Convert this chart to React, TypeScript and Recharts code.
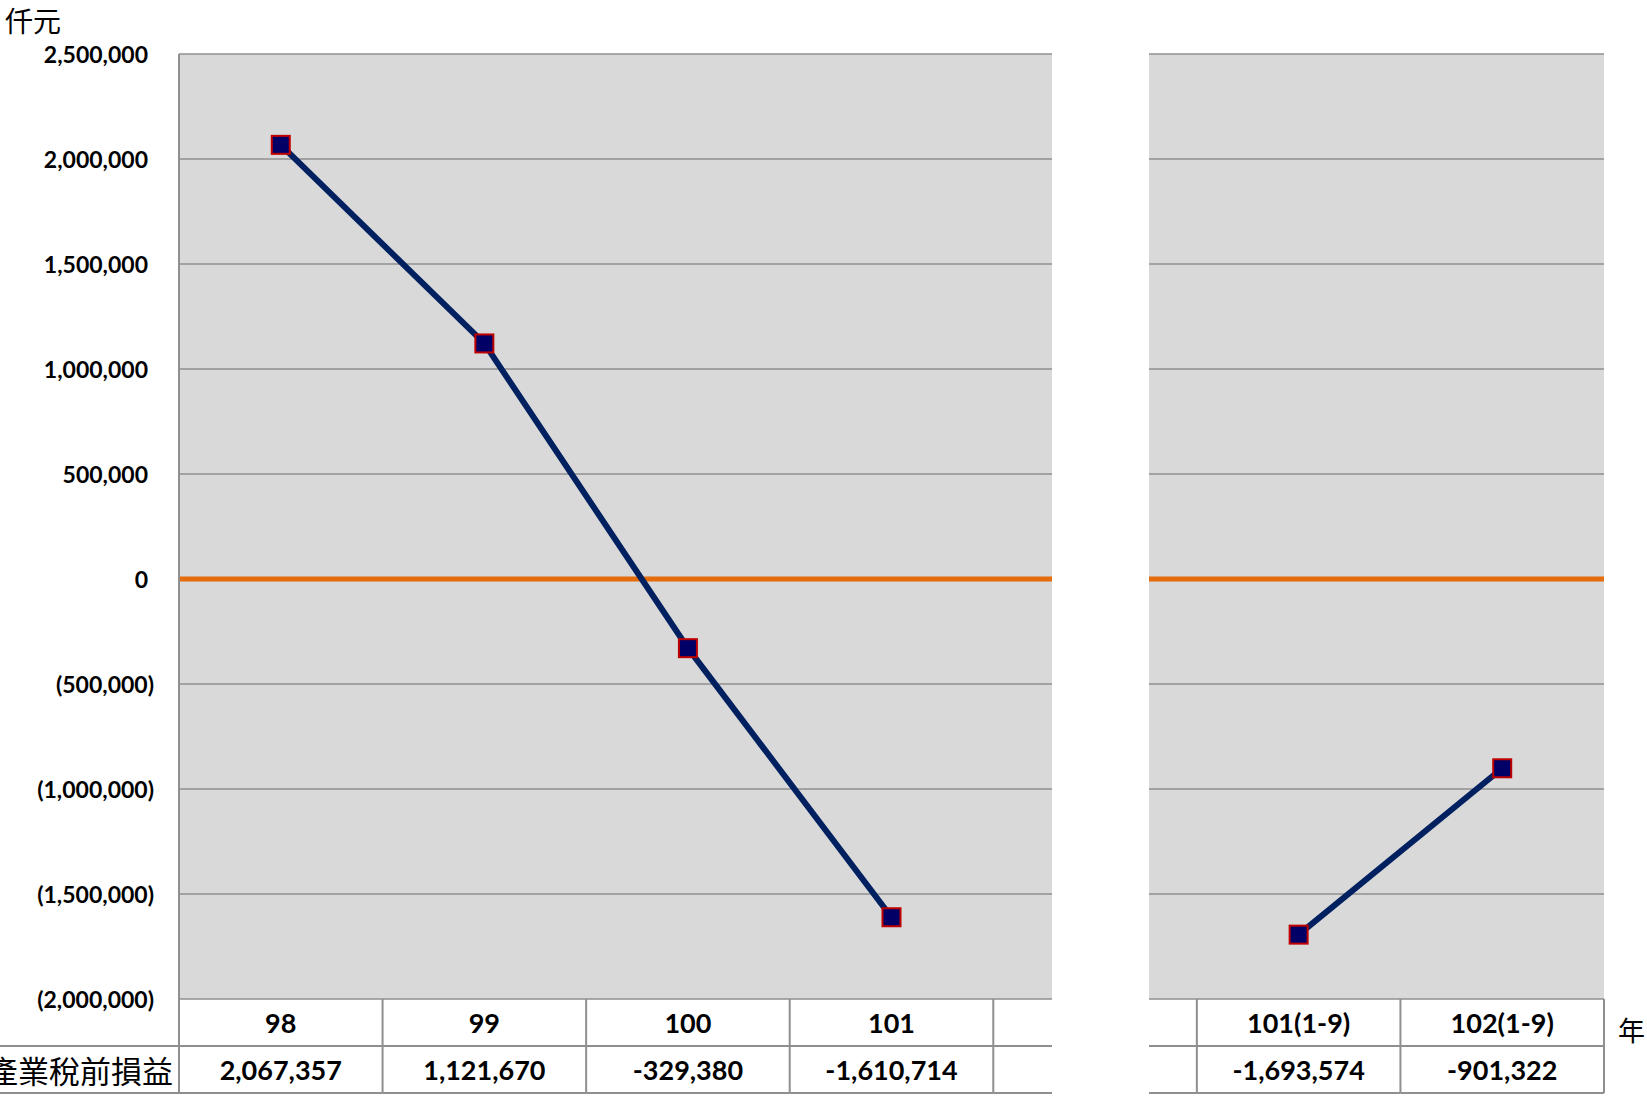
import { LineChart, Line, XAxis, YAxis, CartesianGrid, ReferenceLine } from 'recharts';

// 年度 / 產業稅前損益 (仟元)
const categories = ['98', '99', '100', '101', '', '101(1-9)', '102(1-9)'];
const profit: (number | null)[] = [2067357, 1121670, -329380, -1610714, null, -1693574, -901322];
const yTicks = [2500000, 2000000, 1500000, 1000000, 500000, 0, -500000, -1000000, -1500000, -2000000];
const rowHeader = '產業稅前損益';
const yUnit = '仟元';
const xUnit = '年';

const data = categories.map((year, i) => ({ year, profit: profit[i] }));

const W = 1647;
const H = 1097;
const PLOT_LEFT = 179;
const PLOT_RIGHT = 1604;
const PLOT_TOP = 54;
const PLOT_BOTTOM = 999;
const X_AXIS_H = 95;
const ROW_H = 47;
const ROW_MID = PLOT_BOTTOM + ROW_H;
const TABLE_BOTTOM = PLOT_BOTTOM + ROW_H * 2;
const BAND = (PLOT_RIGHT - PLOT_LEFT) / categories.length;
const BORDER = '#8f8f8f';
const NUM_FONT = 'Lato, "Open Sans", sans-serif';
const CJK_FONT = '"Noto Sans CJK TC", "Noto Sans CJK SC", sans-serif';

const fmt = (v: number) => v.toLocaleString('en-US');
const fmtAxis = (v: number) => (v < 0 ? `(${fmt(-v)})` : fmt(v));

const YTick = (props: any) => {
    const v = props.payload.value;
    return (
        <text
            x={PLOT_LEFT - 31 + (v < 0 ? 6 : 0)}
            y={props.y}
            textAnchor="end"
            dominantBaseline="central"
            fontFamily={NUM_FONT}
            fontWeight="bold"
            fontSize={23}
            fill="#000"
        >
            {fmtAxis(v)}
        </text>
    );
};

// x 軸刻度畫成資料表
const TableTick = (props: any) => {
    const { x, index } = props;
    const value = profit[index];
    const l = x - BAND / 2;
    const r = x + BAND / 2;
    return (
        <g>
            {index === 0 && (
                <g>
                    <line x1={l} y1={PLOT_BOTTOM} x2={l} y2={TABLE_BOTTOM} stroke={BORDER} strokeWidth={2} />
                    <line x1={0} y1={ROW_MID} x2={l} y2={ROW_MID} stroke={BORDER} strokeWidth={2} />
                    <line x1={0} y1={TABLE_BOTTOM} x2={l} y2={TABLE_BOTTOM} stroke={BORDER} strokeWidth={2} />
                    <text
                        x={l - 6}
                        y={ROW_MID + ROW_H / 2}
                        textAnchor="end"
                        dominantBaseline="central"
                        fontFamily={CJK_FONT}
                        fontSize={31}
                        fill="#000"
                    >
                        {rowHeader}
                    </text>
                </g>
            )}
            <line x1={r} y1={PLOT_BOTTOM} x2={r} y2={TABLE_BOTTOM} stroke={BORDER} strokeWidth={2} />
            <line x1={l} y1={ROW_MID} x2={r} y2={ROW_MID} stroke={BORDER} strokeWidth={2} />
            <line x1={l} y1={TABLE_BOTTOM} x2={r} y2={TABLE_BOTTOM} stroke={BORDER} strokeWidth={2} />
            <text
                x={x}
                y={PLOT_BOTTOM + ROW_H / 2}
                textAnchor="middle"
                dominantBaseline="central"
                fontFamily={NUM_FONT}
                fontWeight="bold"
                fontSize={27}
                fill="#000"
            >
                {props.payload.value}
            </text>
            {value != null && (
                <text
                    x={x}
                    y={ROW_MID + ROW_H / 2}
                    textAnchor="middle"
                    dominantBaseline="central"
                    fontFamily={NUM_FONT}
                    fontWeight="bold"
                    fontSize={27}
                    fill="#000"
                >
                    {fmt(value)}
                </text>
            )}
        </g>
    );
};

const SquareDot = (props: any) => {
    const { cx, cy, index, payload } = props;
    if (cx == null || cy == null || payload?.profit == null) return <g key={`dot-${index}`} />;
    return (
        <rect
            key={`dot-${index}`}
            x={cx - 9}
            y={cy - 9}
            width={18}
            height={18}
            fill="#000066"
            stroke="#c00000"
            strokeWidth={2}
        />
    );
};

export default function App() {
    // 兩段之間的空白
    const gapLeft = PLOT_LEFT + BAND * 4.29;
    const gapRight = PLOT_LEFT + BAND * 4.765;

    return (
        <div style={{ position: 'absolute', left: 0, top: 0, width: W, height: H, background: '#fff', overflow: 'hidden' }}>
            <LineChart
                width={W}
                height={H}
                data={data}
                margin={{ top: PLOT_TOP, right: W - PLOT_RIGHT, bottom: H - PLOT_BOTTOM - X_AXIS_H, left: 0 }}
            >
                <CartesianGrid vertical={false} stroke={BORDER} strokeWidth={1.5} fill="#d9d9d9" fillOpacity={1} />
                <XAxis
                    dataKey="year"
                    interval={0}
                    axisLine={false}
                    tickLine={false}
                    height={X_AXIS_H}
                    padding={{ left: BAND / 2, right: BAND / 2 }}
                    tick={<TableTick />}
                />
                <YAxis
                    width={PLOT_LEFT}
                    domain={[-2000000, 2500000]}
                    ticks={yTicks}
                    interval={0}
                    axisLine={{ stroke: BORDER, strokeWidth: 2 }}
                    tickLine={false}
                    tick={<YTick />}
                />
                <ReferenceLine y={0} stroke="#e46c0a" strokeWidth={5} />
                <Line
                    type="linear"
                    dataKey="profit"
                    stroke="#002060"
                    strokeWidth={6}
                    dot={SquareDot}
                    activeDot={false}
                    connectNulls={false}
                    isAnimationActive={false}
                />
            </LineChart>
            <div
                style={{
                    position: 'absolute',
                    left: gapLeft,
                    top: 0,
                    width: gapRight - gapLeft,
                    height: H,
                    background: '#fff',
                }}
            />
            <div style={{ position: 'absolute', left: 5, top: 2, fontFamily: CJK_FONT, fontSize: 28, lineHeight: '36px' }}>
                {yUnit}
            </div>
            <div style={{ position: 'absolute', left: 1618, top: 1012, fontFamily: CJK_FONT, fontSize: 27, lineHeight: '36px' }}>
                {xUnit}
            </div>
        </div>
    );
}
